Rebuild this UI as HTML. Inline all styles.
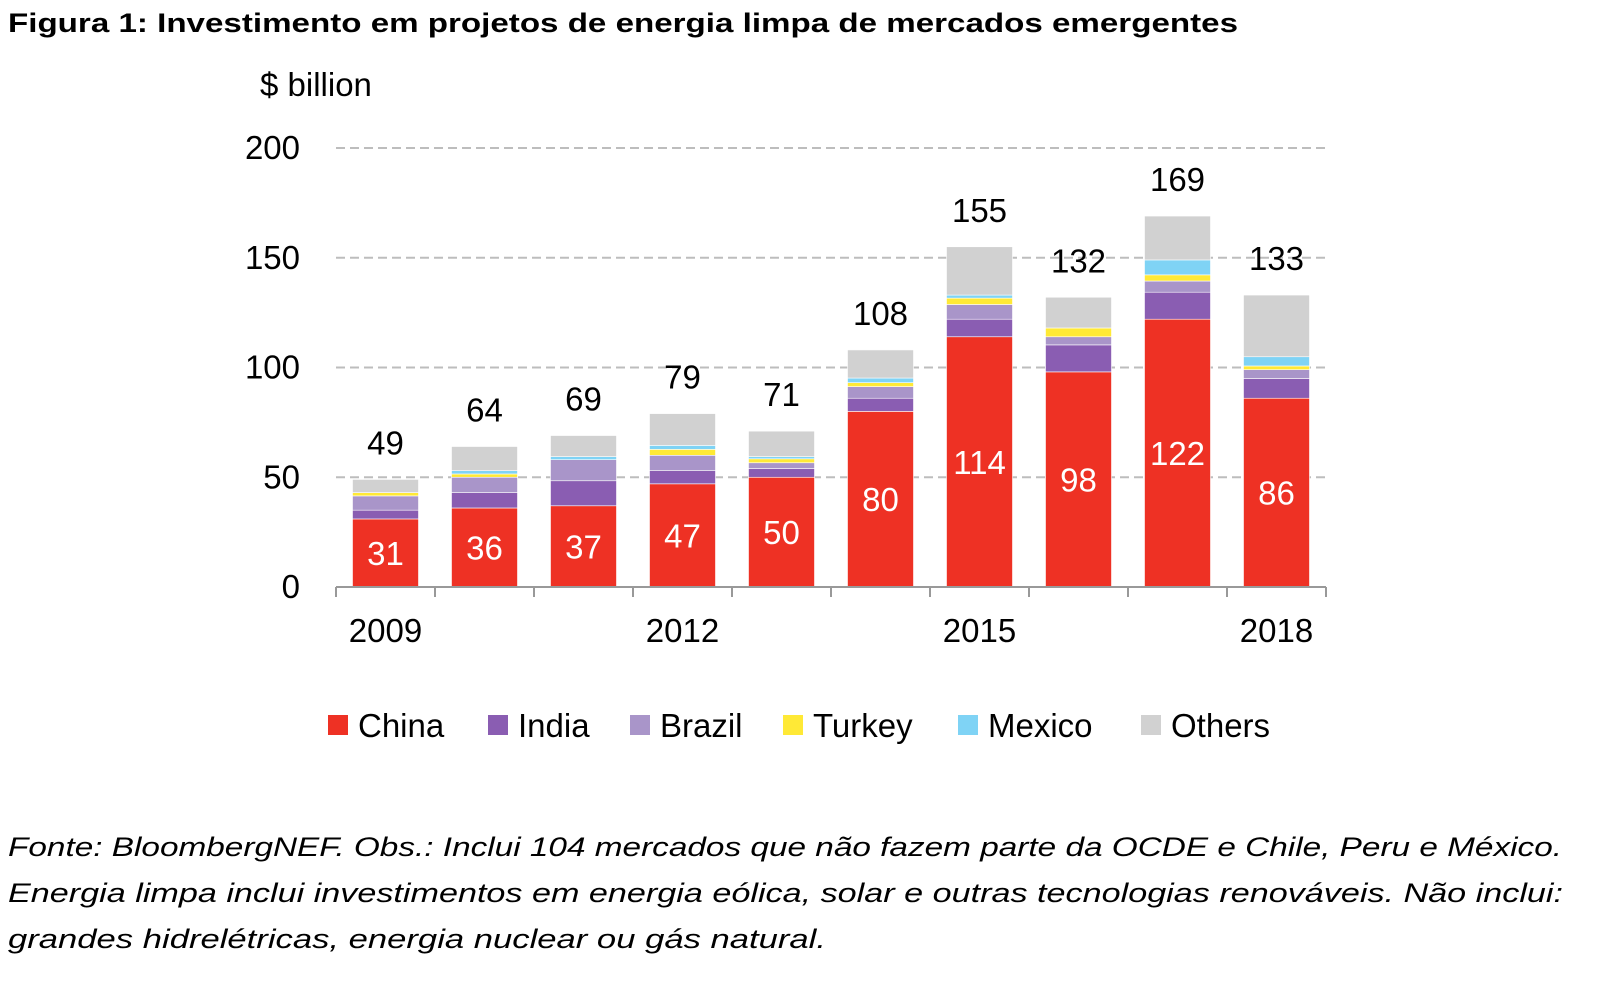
<!DOCTYPE html>
<html><head><meta charset="utf-8"><style>
body{margin:0;background:#fff;}
svg text{font-family:"Liberation Sans",sans-serif;}
</style></head><body>
<svg id="chart" width="1603" height="979" xmlns="http://www.w3.org/2000/svg">
<text x="8" y="32" font-size="27" font-weight="bold" textLength="1230" lengthAdjust="spacingAndGlyphs">Figura 1: Investimento em projetos de energia limpa de mercados emergentes</text>
<text x="260" y="96" font-size="33">$ billion</text>
<g id="grid"></g>
<g id="bars"></g>
<g id="axes"></g>
<g id="legend"></g>
<g font-style="italic" font-size="27">
<text x="8" y="856" textLength="1554" lengthAdjust="spacingAndGlyphs">Fonte: BloombergNEF. Obs.: Inclui 104 mercados que não fazem parte da OCDE e Chile, Peru e México.</text>
<text x="8" y="902" textLength="1555" lengthAdjust="spacingAndGlyphs">Energia limpa inclui investimentos em energia eólica, solar e outras tecnologias renováveis. Não inclui:</text>
<text x="8" y="948" textLength="818" lengthAdjust="spacingAndGlyphs">grandes hidrelétricas, energia nuclear ou gás natural.</text>
</g>
</svg>
<script>
const years = [2009,2010,2011,2012,2013,2014,2015,2016,2017,2018];
const seriesNames = ["China","India","Brazil","Turkey","Mexico","Others"];
const china  = [31,36,37,47,50,80,114,98,122,86];
const india  = [4,7,11.4,6,4,6,8,12.3,12.3,9];
const brazil = [6.5,7,9.6,7,2.6,5.3,6.7,3.7,5.1,4];
const turkey = [1.5,1.5,0,2.7,1.8,1.8,2.9,4,2.8,1.7];
const mexico = [0,1.5,1.4,1.8,1,2.1,1.4,0,6.8,4.2];
const totals = [49,64,69,79,71,108,155,132,169,133];
const yTicks = [0,50,100,150,200];
const xLabelYears = [2009,2012,2015,2018];

const colors = ["#ee3124","#8a5db2","#a995c9","#ffe936","#7fd3f5","#d1d1d1"];
const NS="http://www.w3.org/2000/svg";
const x0=336, step=99.0, bw=66, yBase=587, yTop=148;
const yS = v => yBase - v*(yBase-yTop)/200;
const xC = i => x0 + step*(i+0.5);
function mk(tag, attrs, parent){const e=document.createElementNS(NS,tag);for(const k in attrs)e.setAttribute(k,attrs[k]);parent.appendChild(e);return e;}
const grid=document.getElementById('grid'), bars=document.getElementById('bars'), axes=document.getElementById('axes'), legend=document.getElementById('legend');

yTicks.forEach(t=>{
  if(t>0){const l=mk('line',{x1:x0,x2:1326,y1:yS(t),y2:yS(t),stroke:'#bdbdbd','stroke-width':2,'stroke-dasharray':'9,5'},grid);
  
  }
  const tx=mk('text',{x:300,y:yS(t)+11,'font-size':33,'text-anchor':'end'},axes);
  tx.textContent=t;
  
  
});

const others = totals.map((t,i)=>t-china[i]-india[i]-brazil[i]-turkey[i]-mexico[i]);
const series=[china,india,brazil,turkey,mexico,others];
years.forEach((yr,i)=>{
  let acc=0;
  series.forEach((s,k)=>{
    const v=s[i]; if(v<=0) return;
    const r=mk('rect',{x:xC(i)-bw/2,y:yS(acc+v),width:bw,height:yS(acc)-yS(acc+v),fill:colors[k],stroke:'#fff','stroke-width':0.6},bars);
    
    
    acc+=v;
  });
  const cl=mk('text',{x:xC(i),y:yS(china[i]/2)+12,'font-size':33,fill:'#fff','text-anchor':'middle'},bars);
  cl.textContent=china[i];
  
  
  const tl=mk('text',{x:xC(i),y:yS(totals[i])-25,'font-size':33,'text-anchor':'middle'},bars);
  tl.textContent=totals[i];
  
  
});

const ax=mk('line',{x1:x0,x2:x0+step*years.length,y1:yBase,y2:yBase,stroke:'#999','stroke-width':2},axes);


for(let i=0;i<=years.length;i++){
  const tk=mk('line',{x1:x0+step*i,x2:x0+step*i,y1:yBase,y2:yBase+10,stroke:'#999','stroke-width':2},axes);
  
  
}
xLabelYears.forEach(yr=>{
  const i=years.indexOf(yr);
  const t=mk('text',{x:xC(i),y:642,'font-size':33,'text-anchor':'middle'},axes);
  t.textContent=yr;
  
  
});

const lx=[328,488,630,783,958,1141];
seriesNames.forEach((n,k)=>{
  const g=mk('g',{},legend);
  
  
  mk('rect',{x:lx[k],y:715,width:20,height:20,fill:colors[k]},g);
  const t=mk('text',{x:lx[k]+30,y:737,'font-size':33},g);
  t.textContent=n;
});
</script>
</body></html>
